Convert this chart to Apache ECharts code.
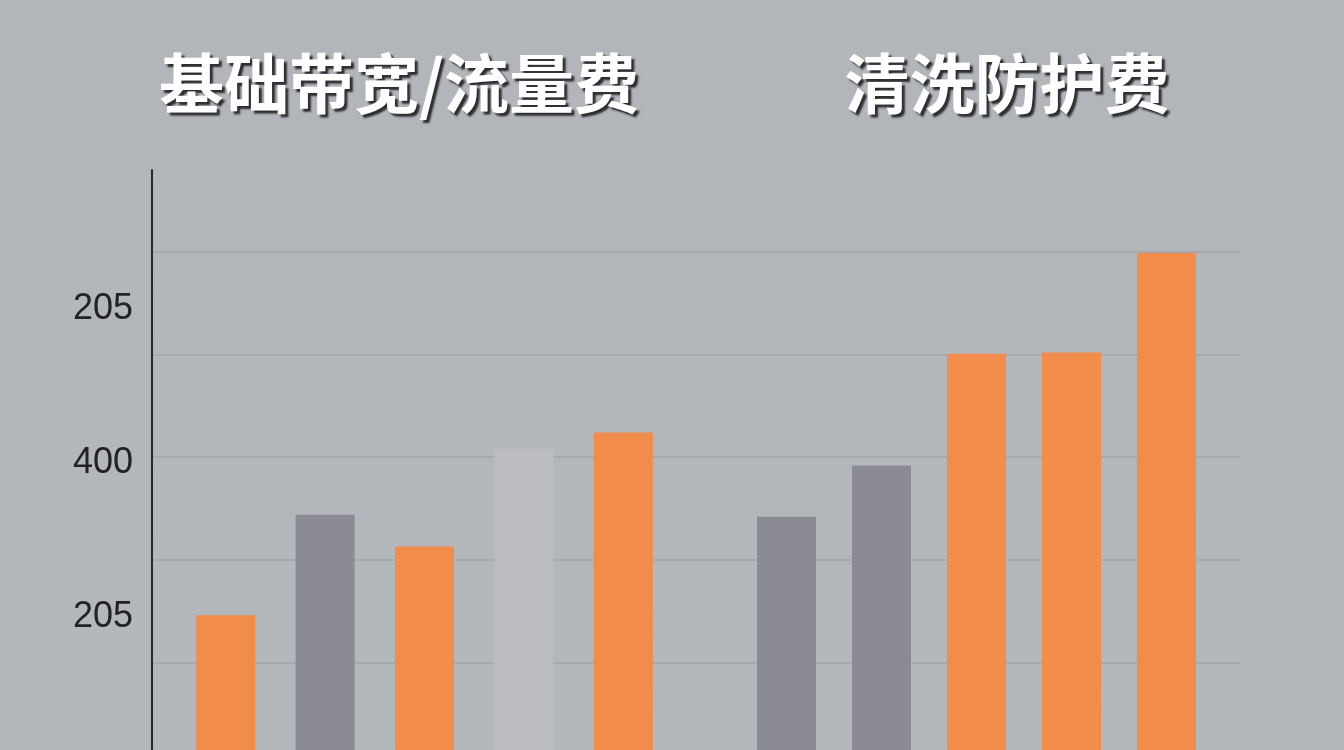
<!DOCTYPE html>
<html>
<head>
<meta charset="utf-8">
<title>基础带宽/流量费 与 清洗防护费</title>
<script src="https://cdn.jsdelivr.net/npm/echarts@6/dist/echarts.min.js"></script>
<style>
  html, body { margin: 0; padding: 0; overflow: hidden; background: #b3b6ba; }
  #chart { width: 1344px; height: 800px; }
</style>
</head>
<body>
<div id="chart"></div>
<script>
// 分组标题
const groupTitles = ['基础带宽/流量费', '清洗防护费'];

// 两组柱子（原图没有显示类别名）
const bandwidthCats = ['1', '2', '3', '4', '5'];
const bandwidthValues = [146, 244, 213, 308, 324];
const protectCats = ['1', '2', '3', '4', '5'];
const protectValues = [242, 292, 401, 402, 499];

// y轴刻度文字，照原图原样
const tickValues = [0, 150, 300, 450];
const tickLabels = ['0', '205', '400', '205'];

// 柱子配色
const bandwidthColors = ['#f28c4a', '#8a8b95', '#f28c4a', '#bcbdc1', '#f28c4a'];
const protectColors = ['#8a8b95', '#8a8b95', '#f28c4a', '#f28c4a', '#f28c4a'];

const chart = echarts.init(document.getElementById('chart'));

const yMax = 580;
const hiddenY = (gridIndex) => ({ gridIndex, type: 'value', min: 0, max: yMax, show: false });

const titleText = (text, x) => ({
  type: 'text',
  x: x,
  y: 83,
  style: {
    text: text,
    fill: '#ffffff',
    font: 'bold 65px "Noto Sans CJK SC"',
    textAlign: 'center',
    textVerticalAlign: 'middle',
    textShadowColor: 'rgba(30,30,35,0.9)',
    textShadowOffsetX: 3,
    textShadowOffsetY: 3,
    textShadowBlur: 2
  }
});

chart.setOption({
  animation: false,
  backgroundColor: {
    type: 'linear', x: 0, y: 0, x2: 0, y2: 1,
    colorStops: [
      { offset: 0, color: '#b2b5b9' },
      { offset: 1, color: '#b4b7bb' }
    ]
  },
  graphic: [
    titleText(groupTitles[0], 399),
    titleText(groupTitles[1], 1007)
  ],
  grid: [
    { left: 152, right: 104, top: 170, bottom: 35 },
    { left: 176, width: 497, top: 170, bottom: 35 },
    { left: 739, width: 475, top: 170, bottom: 35 }
  ],
  xAxis: [
    { gridIndex: 0, type: 'value', min: 0, max: 1, show: false },
    { gridIndex: 1, type: 'category', data: bandwidthCats, show: false },
    { gridIndex: 2, type: 'category', data: protectCats, show: false }
  ],
  yAxis: [
    {
      gridIndex: 0,
      type: 'value',
      min: 0,
      max: yMax,
      interval: 100,
      axisLine: { show: true, lineStyle: { color: '#26272b', width: 2 } },
      axisTick: { show: false },
      axisLabel: { show: false },
      splitLine: { show: true, showMaxLine: false, lineStyle: { color: '#a2a5aa', width: 1.5 } }
    },
    {
      gridIndex: 0,
      type: 'value',
      position: 'left',
      min: 0,
      max: yMax,
      interval: 150,
      axisLine: { show: false },
      axisTick: { show: false },
      splitLine: { show: false },
      axisLabel: {
        margin: 19,
        showMaxLabel: false,
        formatter: (v) => {
          const i = tickValues.indexOf(v);
          return i >= 0 ? '{t|' + tickLabels[i] + '}' : '';
        },
        rich: {
          t: {
            fontSize: 36,
            color: '#232325',
            fontFamily: 'Liberation Sans',
            padding: [12, 0, 0, 0]
          }
        }
      }
    },
    hiddenY(1),
    hiddenY(2)
  ],
  series: [
    {
      type: 'bar',
      xAxisIndex: 1,
      yAxisIndex: 2,
      barWidth: 59,
      data: bandwidthValues.map((v, i) => ({ value: v, itemStyle: { color: bandwidthColors[i] } }))
    },
    {
      type: 'bar',
      xAxisIndex: 2,
      yAxisIndex: 3,
      barWidth: 59,
      data: protectValues.map((v, i) => ({ value: v, itemStyle: { color: protectColors[i] } }))
    }
  ]
});
</script>
</body>
</html>
